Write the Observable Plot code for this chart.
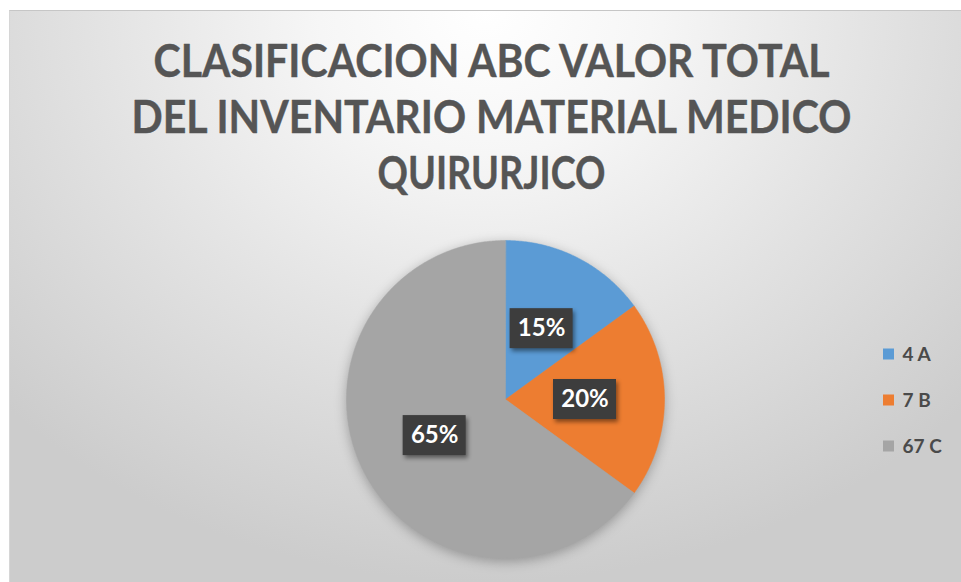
<!DOCTYPE html>
<html><head><meta charset="utf-8">
<script src="https://cdn.jsdelivr.net/npm/d3@7"></script>
<script src="https://cdn.jsdelivr.net/npm/@observablehq/plot@0.6"></script>
<style>
html,body{margin:0;padding:0;background:#fff;}
#wrap{position:relative;width:961px;height:582px;overflow:hidden;}
#bg{position:absolute;left:9px;top:10px;width:952px;height:572px;
  background: radial-gradient(ellipse 70% 100% at 50% 0%, #ffffff 0%, #f6f6f6 25%, #e2e2e2 60%, #cccccc 100%);
  border-top:1px solid #c6c6c6; border-left:1px solid #d6d6d6; box-sizing:border-box;}
#chart{position:absolute;left:0;top:0;}
</style></head><body>
<div id="wrap"><div id="bg"></div><div id="chart"></div></div>
<script>
// ---- data ----
const categories = ["4 A", "7 B", "67 C"];
const shares = [15, 20, 65];
const shareLabels = ["15%", "20%", "65%"];
const sliceColors = ["#5B9BD5", "#ED7D31", "#A5A5A5"];
const titleLines = ["CLASIFICACION ABC VALOR TOTAL", "DEL INVENTARIO MATERIAL MEDICO", "QUIRURJICO"];

// ---- layout ----
const W = 961, H = 582;
const cx = 505, cy = 399, R = 159;
const titleX = 491, titleY0 = 62, titleStep = 56, titleWidths = [676, 720, 228];
const legX = 883, legY0 = 354, legStep = 46, sw = 11;
const boxW = 63, boxH = 40;

const arcs = d3.pie().sort(null).value(d => d)(shares);
const slicePts = [];
arcs.forEach((a, i) => {
  slicePts.push({cat: categories[i], x: cx, y: cy});
  const n = Math.max(2, Math.ceil((a.endAngle - a.startAngle) / 0.01));
  for (let k = 0; k <= n; k++) {
    const t = a.startAngle + (a.endAngle - a.startAngle) * k / n;
    slicePts.push({cat: categories[i], x: cx + R * Math.sin(t), y: cy - R * Math.cos(t)});
  }
});
const labelPos = arcs.map((a, i) => {
  const m = (a.startAngle + a.endAngle) / 2;
  return {cat: categories[i], text: shareLabels[i], x: cx + 0.5 * R * Math.sin(m), y: cy - 0.5 * R * Math.cos(m)};
});
const legendItems = categories.map((c, i) => ({cat: c, y: legY0 + i * legStep}));
const titleItems = titleLines.map((t, i) => ({text: t, y: titleY0 + i * titleStep}));

const chart = Plot.plot({
  width: W, height: H,
  marginTop: 0, marginRight: 0, marginBottom: 0, marginLeft: 0,
  x: {domain: [0, W], range: [0, W], axis: null},
  y: {domain: [0, H], range: [0, H], axis: null},
  color: {domain: categories, range: sliceColors},
  style: {background: "transparent", fontFamily: "Lato, 'Open Sans', sans-serif", overflow: "visible"},
  marks: [
    Plot.line(slicePts, {x: "x", y: "y", z: "cat", fill: "cat", stroke: "cat", strokeWidth: 0.5, curve: "linear-closed"}),
    Plot.rect(labelPos, {x1: d => d.x - boxW / 2, x2: d => d.x + boxW / 2, y1: d => d.y - boxH / 2, y2: d => d.y + boxH / 2, fill: "#3d3d3d"}),
    Plot.text(labelPos, {x: "x", y: "y", text: "text", fill: "#ffffff", fontSize: 24, fontWeight: 700, lineAnchor: "middle"}),
    Plot.rect(legendItems, {x1: legX, x2: legX + sw, y1: d => d.y - sw / 2, y2: d => d.y + sw / 2, fill: "cat"}),
    Plot.text(legendItems, {x: legX + sw + 8, y: "y", text: "cat", textAnchor: "start", fill: "#4a4a4a", fontSize: 19, fontWeight: 700, lineAnchor: "middle"}),
    Plot.text(titleItems, {x: titleX, y: "y", text: "text", fill: "#555555", fontSize: 46, fontWeight: 700, lineAnchor: "middle", stroke: "#555555", strokeWidth: 0.4})
  ]
});
document.getElementById("chart").appendChild(chart);

const svg = d3.select(chart);
svg.selectAll("text").each(function() {
  const idx = titleLines.indexOf(this.textContent);
  if (idx >= 0) {
    this.setAttribute("textLength", titleWidths[idx]);
    this.setAttribute("lengthAdjust", "spacingAndGlyphs");
  }
});
svg.selectAll('g[aria-label="line"]').style("filter", "drop-shadow(0px 3px 6px rgba(0,0,0,0.28))");
svg.selectAll('g[fill="#3d3d3d"]').style("filter", "drop-shadow(2px 3px 2px rgba(0,0,0,0.45))");
</script>
</body></html>
